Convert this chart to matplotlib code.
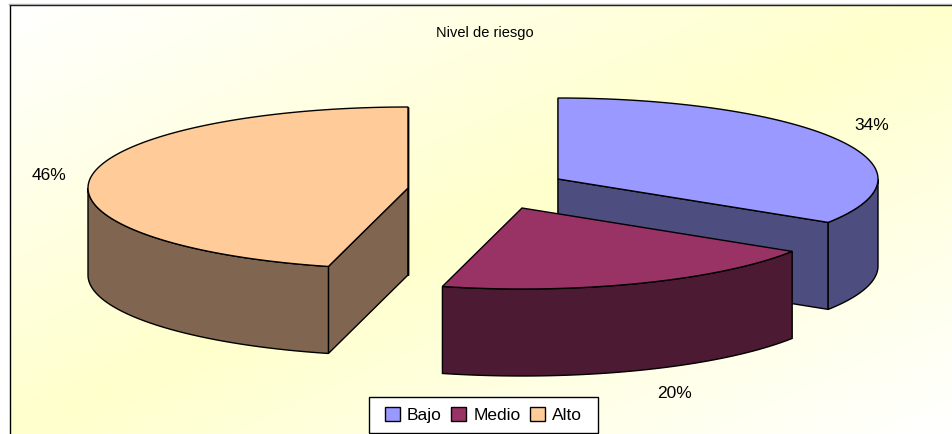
import numpy as np
import matplotlib
matplotlib.use('Agg')
import matplotlib.pyplot as plt
from matplotlib.colors import LinearSegmentedColormap
from matplotlib.patches import Patch, Rectangle

plt.rcParams['font.family'] = ['Liberation Sans', 'DejaVu Sans']

categories = ['Bajo', 'Medio', 'Alto']
values = [34, 20, 46]
colors = ['#9999FF', '#993366', '#FFCC99']
side_colors = ['#4D4D80', '#4D1A33', '#806650']

W, H = 953, 434
# top face centre of each exploded slice, in pixels
centres = [(558, 179), (522, 208), (408, 188)]
label_pos = [(872, 125), (675, 393), (49, 176)]
rx, ry, depth = 320, 81, 87


def arc(cx, cy, a0, a1):
    t = np.radians(np.linspace(a0, a1, 200))
    return cx + rx * np.sin(t), cy - ry * np.cos(t)


fig = plt.figure(figsize=(W / 100, H / 100), dpi=100)
ax = fig.add_axes([0, 0, 1, 1])
ax.set_xlim(0, W)
ax.set_ylim(H, 0)
ax.axis('off')

# diagonal background white - yellow - white
cmap = LinearSegmentedColormap.from_list('bg', ['#FFFFFF', '#FFFFCC', '#FFFFFF'])
xx, yy = np.meshgrid(np.linspace(0, 1, 300), np.linspace(0, 1, 200))
ax.imshow((xx + yy) / 2, cmap=cmap, vmin=0, vmax=1, extent=[10, W, H, 5], aspect='auto', zorder=0)
ax.set_xlim(0, W)
ax.set_ylim(H, 0)
ax.plot([10, 10], [H, 5], color='black', lw=1, zorder=1)
ax.plot([10, W], [5, 5], color='black', lw=1, zorder=1)
ax.plot([9, W], [4, 4], color='#aaaaaa', lw=1, zorder=1)

ends = np.cumsum(values) * 3.6
starts = ends - np.array(values) * 3.6

z = 2
for i in [0, 2, 1]:  # back slice first
    cx, cy = centres[i]
    a0, a1 = starts[i], ends[i]
    x, y = arc(cx, cy, a0, a1)

    # flat side faces, only those that look at the viewer
    for a in (a0, a1):
        if (a == a1 and i == 1) or (a == a0 and i == 1):
            continue
        ex, ey = arc(cx, cy, a, a)
        ax.fill([cx, ex[0], ex[0], cx], [cy, ey[0], ey[0] + depth, cy + depth],
                fc=side_colors[i], ec='black', lw=1, zorder=z)

    # outer curved wall, front half of the ellipse only
    b0, b1 = max(a0, 90), min(a1, 270)
    wx, wy = arc(cx, cy, b0, b1)
    ax.fill(np.r_[wx, wx[::-1]], np.r_[wy, wy[::-1] + depth],
            fc=side_colors[i], ec='black', lw=1, zorder=z)

    # top face
    ax.fill(np.r_[cx, x], np.r_[cy, y], fc=colors[i], ec='black', lw=1, zorder=z)
    z += 1

for v, (lx, ly) in zip(values, label_pos):
    ax.text(lx, ly, f'{v}%', fontsize=12.5, ha='center', va='center', color='black', zorder=10)

ax.text(485, 33, 'Nivel de riesgo', fontsize=10.5, ha='center', va='center', color='black', zorder=10)

handles = [Patch(fc=c, ec='black', lw=1) for c in colors]
ax.add_patch(Rectangle((369, 397), 229, 36, fc='white', ec='black', lw=1, zorder=9))
leg = ax.legend(handles, categories, loc='center', bbox_to_anchor=(483.5, 415),
                bbox_transform=ax.transData, ncol=3, frameon=False, fontsize=12.5,
                handlelength=0.85, handleheight=0.85, handletextpad=0.4, columnspacing=0.55,
                borderpad=0, borderaxespad=0)
leg.set_zorder(10)

fig.savefig('out.png', dpi=100)
